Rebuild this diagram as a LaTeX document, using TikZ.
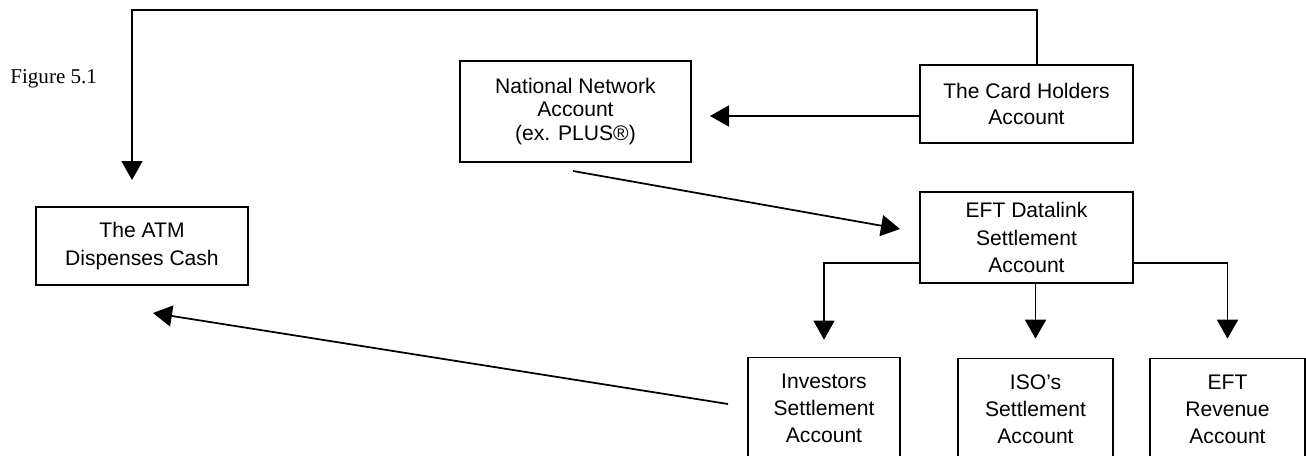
\documentclass[tikz,border=0pt]{standalone}
\usepackage{fontspec}
\setmainfont{Liberation Sans}
\newfontfamily\figfont{Liberation Serif}
\usetikzlibrary{arrows.meta}

\begin{document}
\begin{tikzpicture}[x=0.02cm,y=-0.02cm,
  acct/.style={draw,line width=1pt,inner sep=0pt,align=center,
    font=\fontsize{12}{15.3}\selectfont},
  subacct/.style={acct,minimum width=3.1cm,minimum height=2.04cm},
  flow/.style={line width=1pt,-{Triangle[length=0.38cm,width=0.42cm]}}]
\useasboundingbox (0,0) rectangle (1306,456);
\clip (0,0) rectangle (1306,456);
\node[anchor=base west,inner sep=0pt,font=\figfont\fontsize{12}{14}\selectfont] (fig) at (10,84) {Figure 5.1};
% accounts
\node[acct,minimum width=4.24cm,minimum height=1.56cm,font=\fontsize{12}{16.4}\selectfont] (atm) at (142,246) {The ATM\\Dispenses Cash};
\node[acct,minimum width=4.62cm,minimum height=2.02cm,font=\fontsize{12}{13.2}\selectfont] (natnet) at (575.5,111.5) {National Network\\Account\\(ex. PLUS®)};
\node[acct,minimum width=4.26cm,minimum height=1.56cm] (holder) at (1026.5,104) {The Card Holders\\Account};
\node[acct,minimum width=4.26cm,minimum height=1.82cm,font=\fontsize{12}{15.9}\selectfont] (datalink) at (1026.5,237.5) {EFT Datalink\\Settlement\\Account};
\node[subacct,minimum width=3.04cm] (investors) at (824,408.5) {Investors\\Settlement\\Account};
\node[subacct] (iso) at (1035.5,409.5) {ISO's\\Settlement\\Account};
\node[subacct] (revenue) at (1227.5,409.5) {EFT\\Revenue\\Account};
% free ends
\coordinate (topline) at (0,10);
\coordinate (atmin) at (132,180);
\coordinate (natin) at (710,116);
\coordinate (natout) at (573,171);
\coordinate (datain) at (900,229);
\coordinate (split) at (0,263);
\coordinate (atmback) at (153,313);
\coordinate (invout) at (728,404);
% connectors
\draw[flow] ([xshift=0.21cm]holder.north) |- (topline -| atmin) -- (atmin);
\draw[flow] (holder.west |- natin) -- (natin);
\draw[flow] (natout) -- (datain);
\draw[flow,shorten >=0.34cm] (datalink.west |- split) -| (investors.north);
\draw[flow,shorten >=0.38cm] (iso.north |- datalink.south) -- (iso.north);
\draw[flow,shorten >=0.38cm] (datalink.east |- split) -| (revenue.north);
\draw[flow] (invout) -- (atmback);
\end{tikzpicture}
\end{document}
